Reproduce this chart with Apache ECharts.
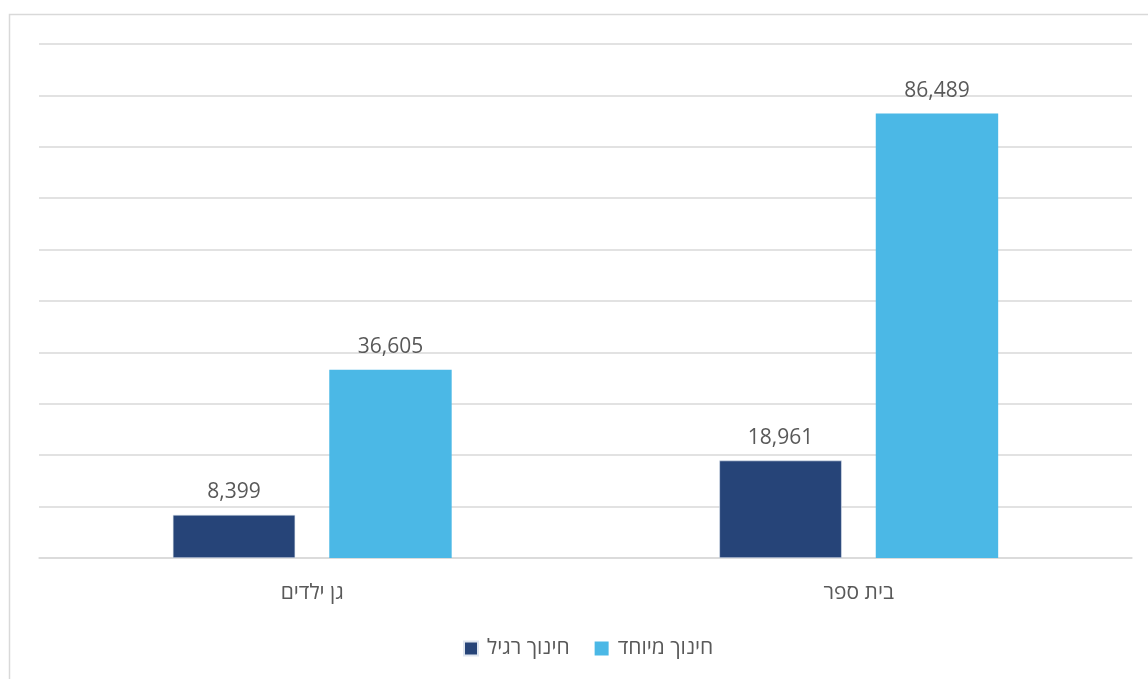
<!DOCTYPE html>
<html><head><meta charset="utf-8">
<script src="https://cdn.jsdelivr.net/npm/echarts@6/dist/echarts.min.js"></script>
<style>html,body{margin:0;padding:0;background:#fff}#c{width:1148px;height:679px}</style>
</head><body><div id="c"></div>
<script>
const categories = ['גן ילדים', 'בית ספר'];
const seriesNames = ['חינוך רגיל', 'חינוך מיוחד'];
const regular = [8399, 18961];
const special = [36605, 86489];
const FONT = '"Open Sans", "Noto Sans", "DejaVu Sans", sans-serif';
const chart = echarts.init(document.getElementById('c'));
const lbl = {show:true, position:'top', distance:12, color:'#595959', fontSize:21, fontFamily:FONT,
  formatter: p => p.value.toLocaleString('en-US')};
chart.setOption({
  animation:false,
  graphic:[{type:'rect', shape:{x:9.5, y:14.5, width:1200, height:700}, style:{fill:'none', stroke:'#d9d9d9', lineWidth:1.5}, silent:true}],
  grid:{left:39, right:16, top:44, bottom:121},
  legend:{top:633, left:458, itemWidth:14, itemHeight:14, itemGap:25, icon:'rect',
    textStyle:{color:'#595959', fontSize:21, fontFamily:FONT, padding:[0,0,0,4]}, data:seriesNames},
  xAxis:{type:'category', data:categories, axisTick:{show:false},
    axisLine:{lineStyle:{color:'#d9d9d9', width:1.5}},
    axisLabel:{color:'#595959', fontSize:21, fontFamily:FONT, margin:25}},
  yAxis:{type:'value', min:0, max:100000, interval:10000, axisLabel:{show:false}, axisLine:{show:false}, axisTick:{show:false},
    splitLine:{lineStyle:{color:'#d9d9d9', width:1.5}}},
  series:[
    {name:seriesNames[0], type:'bar', data:regular, barWidth:'22.4%', barGap:'27.8%',
      itemStyle:{color:'#264478', borderColor:'#dfe6f0', borderWidth:0.6}, label:lbl},
    {name:seriesNames[1], type:'bar', data:special, barWidth:'22.4%', barGap:'27.8%',
      itemStyle:{color:'#4bb8e6'}, label:lbl}
  ]
});
</script></body></html>
